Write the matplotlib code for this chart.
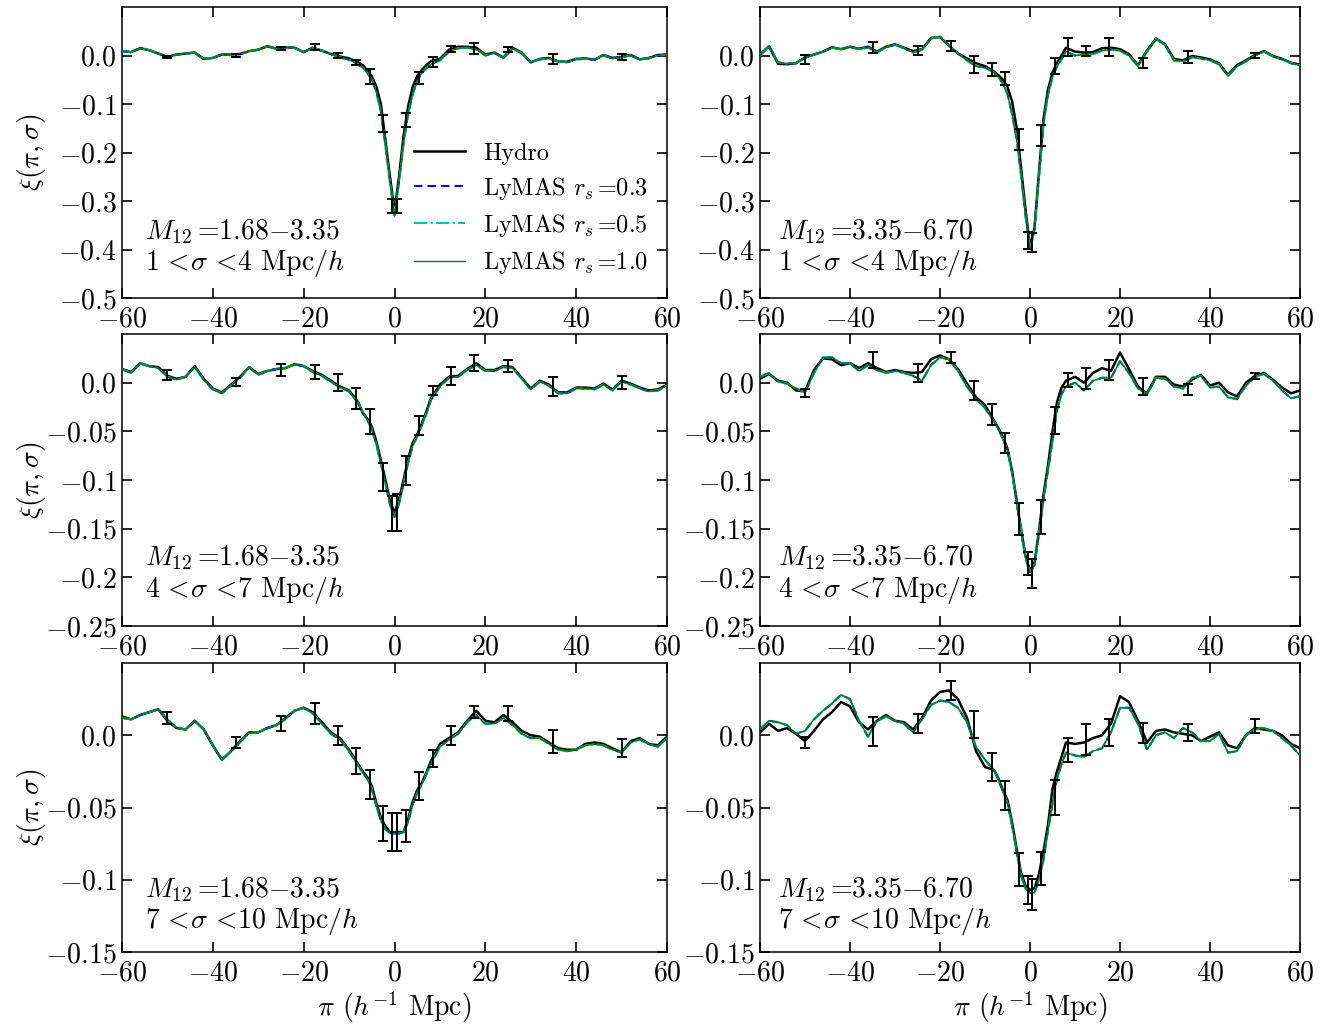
import matplotlib
matplotlib.use("Agg")
import matplotlib.pyplot as plt
from matplotlib.ticker import FuncFormatter, FixedLocator
from matplotlib.lines import Line2D

plt.rcParams['font.family'] = 'serif'
plt.rcParams['font.serif'] = ['cmr10', 'DejaVu Serif']
plt.rcParams['mathtext.fontset'] = 'cm'
plt.rcParams['axes.formatter.use_mathtext'] = True
plt.rcParams['axes.unicode_minus'] = True

# ---------------- data ----------------
pi = [-60, -58, -56, -54, -52, -50, -48, -46, -44, -42,
      -40, -38, -36, -34, -32, -30, -28, -26, -24, -22,
      -20, -18, -16, -14, -12, -10,
      -8, -7, -6, -5, -4, -3, -2, -1, 0, 1, 2, 3, 4, 5, 6, 7, 8,
      10, 12, 14, 16, 18, 20, 22, 24, 26, 28,
      30, 32, 34, 36, 38, 40, 42, 44, 46, 48,
      50, 52, 54, 56, 58, 60]

err_pi = [-50, -35, -25, -17.5, -12.5, -8.5, -5.5, -2.5, -0.5,
          0.5, 2.5, 5.5, 8.5, 12.5, 17.5, 25, 35, 50]

# Panel A: M12 = 1.68-3.35, 1 < sigma < 4
hydro_A = [0.009, 0.007, 0.015, 0.011, 0.004, -0.003, 0.002, 0.004, 0.006, -0.007,
           -0.005, 0.002, 0.002, 0.003, 0.009, 0.012, 0.019, 0.014, 0.017, 0.016,
           0.007, 0.016, 0.010, 0.003, -0.002, -0.006,
           -0.014, -0.02, -0.03, -0.043, -0.064, -0.10, -0.175, -0.25, -0.32, -0.25, -0.165, -0.105, -0.065, -0.042, -0.03, -0.02, -0.012,
           -0.007, 0.012, 0.018, 0.018, 0.016, 0.002, 0.006, -0.004, 0.016, 0.006,
           -0.014, -0.007, -0.005, -0.012, -0.013, -0.007, -0.006, -0.009, 0.001, -0.005,
           -0.003, 0.001, -0.008, -0.005, 0.001, 0.002]
lymas_A = [0.009, 0.007, 0.015, 0.011, 0.004, -0.003, 0.002, 0.004, 0.006, -0.007,
           -0.005, 0.002, 0.002, 0.003, 0.009, 0.012, 0.019, 0.014, 0.017, 0.016,
           0.007, 0.016, 0.010, 0.003, -0.004, -0.009,
           -0.018, -0.025, -0.035, -0.05, -0.075, -0.115, -0.185, -0.26, -0.33, -0.26, -0.18, -0.12, -0.08, -0.052, -0.036, -0.026, -0.018,
           -0.01, 0.008, 0.015, 0.016, 0.013, 0.0, 0.005, -0.005, 0.014, 0.005,
           -0.014, -0.008, -0.006, -0.012, -0.014, -0.008, -0.007, -0.009, 0.0, -0.006,
           -0.004, 0.0, -0.008, -0.006, 0.0, 0.002]
errc_A = [-0.003, 0.0, 0.015, 0.017, 0.0, -0.015, -0.043, -0.14, -0.31,
          -0.31, -0.133, -0.046, -0.013, 0.014, 0.014, 0.012, -0.007, -0.003]
errs_A = [0.003, 0.004, 0.003, 0.006, 0.006, 0.005, 0.015, 0.017, 0.015,
          0.015, 0.014, 0.012, 0.010, 0.006, 0.011, 0.005, 0.010, 0.006]

# Panel B: M12 = 3.35-6.70, 1 < sigma < 4
hydro_B = [0.002, 0.019, -0.017, -0.018, -0.016, -0.004, 0.002, 0.008, 0.017, 0.013,
           0.018, 0.014, 0.018, 0.008, 0.018, 0.023, 0.016, 0.009, 0.013, 0.036,
           0.038, 0.02, 0.004, -0.006, -0.016, -0.022,
           -0.033, -0.041, -0.05, -0.065, -0.094, -0.147, -0.23, -0.317, -0.395, -0.355, -0.24, -0.13, -0.07, -0.035, -0.015, 0.0, 0.016,
           0.008, 0.006, 0.007, 0.015, 0.016, 0.013, 0.003, -0.02, 0.01, 0.035,
           0.023, -0.007, -0.01, -0.001, -0.004, -0.008, -0.016, -0.04, -0.02, -0.01,
           0.001, 0.009, -0.001, -0.007, -0.015, -0.019]
lymas_B = [0.0, 0.02, -0.014, -0.017, -0.015, -0.005, 0.002, 0.008, 0.016, 0.013,
           0.018, 0.013, 0.017, 0.006, 0.017, 0.022, 0.015, 0.006, 0.012, 0.035,
           0.039, 0.02, 0.004, -0.01, -0.022, -0.025,
           -0.035, -0.045, -0.058, -0.08, -0.12, -0.17, -0.245, -0.33, -0.40, -0.36, -0.25, -0.14, -0.08, -0.045, -0.022, -0.008, 0.008,
           0.0, 0.002, 0.003, 0.01, 0.012, 0.01, 0.0, -0.022, 0.008, 0.034,
           0.022, -0.01, -0.012, -0.004, -0.006, -0.01, -0.018, -0.042, -0.022, -0.012,
           0.0, 0.008, -0.002, -0.008, -0.016, -0.02]
errc_B = [-0.008, 0.017, 0.011, 0.02, -0.019, -0.029, -0.047, -0.173, -0.381,
          -0.386, -0.165, -0.022, 0.018, 0.009, 0.018, -0.015, -0.003, 0.0]
errs_B = [0.01, 0.011, 0.009, 0.01, 0.018, 0.014, 0.014, 0.022, 0.017,
          0.019, 0.021, 0.017, 0.019, 0.01, 0.019, 0.01, 0.012, 0.005]

# Panel C: M12 = 1.68-3.35, 4 < sigma < 7
hydro_C = [0.014, 0.011, 0.02, 0.017, 0.016, 0.007, 0.004, 0.006, 0.017, 0.004,
           -0.006, -0.01, -0.002, 0.006, 0.016, 0.009, 0.012, 0.014, 0.015, 0.019,
           0.017, 0.012, 0.008, 0.002, -0.004, -0.008,
           -0.02, -0.031, -0.037, -0.045, -0.06, -0.08, -0.1, -0.121, -0.134, -0.12, -0.1, -0.078, -0.062, -0.053, -0.042, -0.03, -0.016,
           -0.002, 0.006, 0.007, 0.014, 0.02, 0.013, 0.013, 0.017, 0.016, 0.005,
           -0.006, 0.002, -0.002, -0.01, -0.01, -0.005, -0.005, -0.006, -0.001, -0.007,
           0.002, -0.001, -0.005, -0.008, -0.007, -0.002]
lymas_C = [0.014, 0.010, 0.02, 0.017, 0.015, 0.006, 0.003, 0.006, 0.016, 0.003,
           -0.007, -0.011, -0.003, 0.005, 0.016, 0.008, 0.012, 0.014, 0.015, 0.019,
           0.017, 0.011, 0.007, 0.001, -0.005, -0.009,
           -0.021, -0.03, -0.038, -0.048, -0.063, -0.083, -0.104, -0.125, -0.138, -0.124, -0.104, -0.082, -0.065, -0.055, -0.044, -0.032, -0.018,
           -0.004, 0.005, 0.006, 0.013, 0.018, 0.012, 0.012, 0.016, 0.015, 0.004,
           -0.007, 0.001, -0.003, -0.011, -0.011, -0.006, -0.006, -0.007, -0.002, -0.008,
           0.001, -0.002, -0.006, -0.009, -0.008, -0.003]
errc_C = [0.008, 0.001, 0.013, 0.011, 0.0, -0.016, -0.04, -0.097, -0.134,
          -0.133, -0.09, -0.044, -0.008, 0.007, 0.02, 0.017, -0.004, 0.0]
errs_C = [0.005, 0.004, 0.006, 0.007, 0.009, 0.011, 0.013, 0.014, 0.018,
          0.019, 0.015, 0.01, 0.005, 0.009, 0.008, 0.006, 0.01, 0.007]

# Panel D: M12 = 3.35-6.70, 4 < sigma < 7
hydro_D = [0.004, 0.009, 0.002, 0.0, -0.008, -0.009, 0.013, 0.025, 0.024, 0.018,
           0.02, 0.015, 0.02, 0.015, 0.011, 0.013, 0.011, 0.01, 0.011, 0.024,
           0.028, 0.024, 0.014, -0.001, -0.015, -0.023,
           -0.039, -0.047, -0.056, -0.068, -0.09, -0.12, -0.15, -0.178, -0.193, -0.185, -0.152, -0.115, -0.085, -0.05, -0.02, -0.005, 0.002,
           0.006, 0.0, 0.01, 0.015, 0.012, 0.031, 0.014, -0.004, -0.011, 0.006,
           0.006, -0.002, -0.004, 0.003, 0.008, -0.003, 0.0, -0.01, -0.014, 0.0,
           0.007, 0.01, 0.003, -0.005, -0.011, -0.008]
lymas_D = [0.006, 0.01, 0.001, -0.001, -0.006, -0.01, 0.01, 0.026, 0.026, 0.02,
           0.02, 0.012, 0.018, 0.013, 0.01, 0.012, 0.01, 0.007, 0.002, 0.018,
           0.026, 0.024, 0.012, -0.004, -0.017, -0.026,
           -0.04, -0.048, -0.058, -0.07, -0.092, -0.122, -0.152, -0.18, -0.195, -0.187, -0.155, -0.12, -0.09, -0.06, -0.028, -0.012, -0.004,
           0.0, -0.008, 0.002, 0.005, 0.005, 0.022, 0.01, -0.006, -0.012, 0.005,
           0.004, -0.004, -0.006, 0.005, 0.007, -0.005, -0.004, -0.015, -0.017, -0.003,
           0.006, 0.009, 0.002, -0.008, -0.016, -0.014]
errc_D = [-0.011, 0.023, 0.01, 0.026, -0.008, -0.033, -0.062, -0.14, -0.186,
          -0.196, -0.138, -0.039, 0.003, 0.004, 0.013, -0.004, -0.007, 0.007]
errs_D = [0.004, 0.008, 0.009, 0.006, 0.01, 0.011, 0.01, 0.016, 0.012,
          0.015, 0.017, 0.014, 0.007, 0.011, 0.01, 0.009, 0.006, 0.003]

# Panel E: M12 = 1.68-3.35, 7 < sigma < 10
hydro_E = [0.013, 0.011, 0.014, 0.016, 0.018, 0.010, 0.005, 0.004, 0.010, 0.004,
           -0.007, -0.017, -0.011, -0.004, 0.002, 0.002, 0.005, 0.007, 0.012, 0.017,
           0.019, 0.016, 0.009, 0.002, -0.002, -0.010,
           -0.02, -0.025, -0.029, -0.035, -0.047, -0.057, -0.063, -0.067, -0.067, -0.067, -0.067, -0.058, -0.046, -0.038, -0.033, -0.026, -0.018,
           -0.006, -0.002, 0.002, 0.010, 0.017, 0.01, 0.009, 0.014, 0.009, 0.003,
           0.0, -0.001, -0.005, -0.009, -0.010, -0.010, -0.006, -0.005, -0.006, -0.009,
           -0.012, -0.004, -0.002, -0.006, -0.007, -0.001]
lymas_E = [0.012, 0.011, 0.014, 0.016, 0.018, 0.011, 0.005, 0.004, 0.010, 0.004,
           -0.007, -0.017, -0.011, -0.005, 0.002, 0.002, 0.005, 0.007, 0.011, 0.017,
           0.019, 0.015, 0.008, 0.001, -0.003, -0.011,
           -0.021, -0.026, -0.03, -0.037, -0.049, -0.059, -0.065, -0.068, -0.068, -0.068, -0.067, -0.06, -0.048, -0.04, -0.034, -0.027, -0.02,
           -0.008, -0.003, 0.001, 0.009, 0.014, 0.008, 0.008, 0.012, 0.007, 0.001,
           -0.002, -0.002, -0.006, -0.01, -0.011, -0.010, -0.007, -0.006, -0.007, -0.010,
           -0.012, -0.005, -0.003, -0.006, -0.008, -0.002]
errc_E = [0.012, -0.005, 0.008, 0.015, 0.0, -0.018, -0.034, -0.061, -0.067,
          -0.067, -0.063, -0.035, -0.016, 0.0, 0.016, 0.015, -0.0046, -0.0086]
errs_E = [0.004, 0.004, 0.005, 0.0075, 0.0065, 0.009, 0.01, 0.012, 0.0133,
          0.0133, 0.011, 0.0095, 0.006, 0.0065, 0.0043, 0.005, 0.008, 0.0063]

# Panel F: M12 = 3.35-6.70, 7 < sigma < 10
hydro_F = [0.002, 0.008, 0.003, 0.005, 0.001, -0.004, 0.003, 0.011, 0.016, 0.023,
           0.02, 0.009, 0.004, 0.01, 0.014, 0.01, 0.009, 0.004, 0.012, 0.024,
           0.03, 0.031, 0.025, 0.012, -0.011, -0.022,
           -0.024, -0.03, -0.038, -0.045, -0.06, -0.078, -0.095, -0.104, -0.107, -0.106, -0.096, -0.08, -0.062, -0.037, -0.025, -0.015, -0.005,
           -0.006, -0.005, -0.002, 0.0, 0.008, 0.027, 0.023, 0.01, -0.005, 0.003,
           0.004, 0.002, 0.001, 0.0, -0.004, -0.001, 0.002, -0.007, -0.009, 0.0,
           0.005, 0.004, 0.003, 0.0, -0.006, -0.009]
lymas_F = [0.004, 0.01, 0.009, 0.007, 0.001, 0.003, 0.011, 0.017, 0.022, 0.028,
           0.025, 0.01, -0.001, 0.01, 0.013, 0.01, 0.008, 0.002, 0.011, 0.021,
           0.024, 0.023, 0.019, 0.009, -0.008, -0.017,
           -0.024, -0.031, -0.039, -0.047, -0.062, -0.08, -0.097, -0.106, -0.109, -0.109, -0.1, -0.086, -0.066, -0.047, -0.03, -0.02, -0.012,
           -0.014, -0.015, -0.011, -0.009, 0.002, 0.019, 0.019, 0.008, -0.01, 0.0,
           0.002, -0.002, 0.005, 0.002, -0.004, -0.004, 0.001, -0.012, -0.011, 0.0,
           0.004, 0.005, 0.003, -0.002, -0.007, -0.014]
errc_F = [-0.005, 0.0023, 0.008, 0.031, 0.0075, -0.022, -0.042, -0.093, -0.107,
          -0.11, -0.092, -0.043, -0.010, -0.003, 0.0017, 0.0017, 0.0017, 0.0064]
errs_F = [0.004, 0.01, 0.0065, 0.0065, 0.0095, 0.0098, 0.01, 0.0115, 0.0097,
          0.0108, 0.0115, 0.012, 0.0083, 0.0107, 0.0094, 0.0071, 0.006, 0.0047]

mass_labels = [r"$M_{12}\,$=1.68$-$3.35", r"$M_{12}\,$=3.35$-$6.70"]
sigma_labels = [r"1$\,<\!\sigma\,<\!$4 Mpc$/h$", r"4$\,<\!\sigma\,<\!$7 Mpc$/h$",
                r"7$\,<\!\sigma\,<\!$10 Mpc$/h$"]
legend_labels = ["Hydro", r"LyMAS $r_s\,$=0.3", r"LyMAS $r_s\,$=0.5", r"LyMAS $r_s\,$=1.0"]
xticks = [-60, -40, -20, 0, 20, 40, 60]
row_ylims = [(-0.5, 0.1), (-0.25, 0.05), (-0.15, 0.05)]
row_yticks = [[-0.5, -0.4, -0.3, -0.2, -0.1, 0.0],
              [-0.25, -0.2, -0.15, -0.1, -0.05, 0.0],
              [-0.15, -0.1, -0.05, 0.0]]

panels = [
    [(hydro_A, lymas_A, errc_A, errs_A), (hydro_B, lymas_B, errc_B, errs_B)],
    [(hydro_C, lymas_C, errc_C, errs_C), (hydro_D, lymas_D, errc_D, errs_D)],
    [(hydro_E, lymas_E, errc_E, errs_E), (hydro_F, lymas_F, errc_F, errs_F)],
]

# ---------------- figure ----------------
W, H = 1329, 1025
fig = plt.figure(figsize=(W / 100, H / 100), dpi=100)

col_lw = [(122 / W, 545 / W), (760 / W, 540 / W)]
row_tb = [(7, 298), (334, 626), (663, 952)]
text_y = [(0.227, 0.118), (0.233, 0.120), (0.215, 0.104)]


def fmt(v, pos):
    r = round(float(v), 2)
    if abs(r) < 1e-9:
        r = 0.0
    return "$" + repr(r) + "$"


FS = 20
for r in range(3):
    top, bot = row_tb[r]
    for c in range(2):
        l, w = col_lw[c]
        ax = fig.add_axes([l, 1 - bot / H, w, (bot - top) / H])
        hyd, lym, ec, es = panels[r][c]
        ax.plot(pi, hyd, color='k', lw=1.8, zorder=3)
        ax.plot(pi, lym, color='b', lw=1.5, ls='--', dashes=(4, 2.5), zorder=4)
        ax.plot(pi, lym, color='c', lw=1.5, ls='-.', zorder=5)
        ax.plot(pi, lym, color='g', lw=1.0, zorder=6)
        ax.errorbar(err_pi, ec, yerr=es, fmt='none', ecolor='k', elinewidth=1.4,
                    capsize=3.8, capthick=1.4, zorder=7)
        ax.set_xlim(-60, 60)
        ax.set_ylim(*row_ylims[r])
        ax.set_xticks(xticks)
        ax.yaxis.set_major_locator(FixedLocator(row_yticks[r]))
        ax.yaxis.set_major_formatter(FuncFormatter(fmt))
        ax.tick_params(direction='in', top=True, right=True, length=7, width=1.2,
                       labelsize=FS, pad=6)
        ax.tick_params(axis='y', pad=4)
        for sp in ax.spines.values():
            sp.set_linewidth(1.1)
        ax.text(0.042 if c == 0 else 0.033, text_y[r][0], mass_labels[c],
                transform=ax.transAxes, fontsize=FS, va='center', ha='left')
        ax.text(0.042 if c == 0 else 0.033, text_y[r][1], sigma_labels[r],
                transform=ax.transAxes, fontsize=FS, va='center', ha='left')
        if c == 0:
            ax.set_ylabel(r"$\xi(\pi,\sigma)$", fontsize=FS)
            ax.yaxis.set_label_coords(-0.135, 0.5)
        if r == 2:
            ax.set_xlabel(r"$\pi$ ($h^{-1}$ Mpc)", fontsize=FS, labelpad=2)
        if r == 0 and c == 0:
            handles = [Line2D([], [], color='k', lw=1.8),
                       Line2D([], [], color='b', lw=1.5, ls='--', dashes=(4, 2.5)),
                       Line2D([], [], color='c', lw=1.5, ls='-.'),
                       Line2D([], [], color='g', lw=1.0)]
            ax.legend(handles, legend_labels, loc='lower left',
                      bbox_to_anchor=(0.535, 0.075), frameon=False,
                      fontsize=17.5, handlelength=2.1, handletextpad=0.75,
                      labelspacing=0.42, borderpad=0.0, borderaxespad=0.0)

fig.savefig("out.png", dpi=100)
